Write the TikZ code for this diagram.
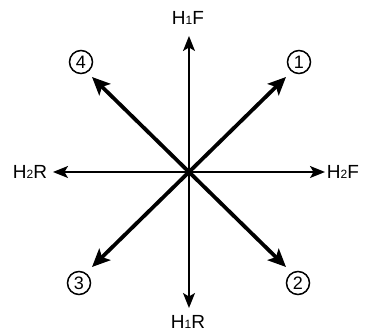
\documentclass[tikz,border=0pt]{standalone}
\usepackage{fontspec}
\setmainfont{Liberation Sans}
\usetikzlibrary{arrows.meta}
\newcommand{\smallsub}[1]{\raisebox{-0.5pt}{\fontsize{12}{12}\selectfont #1}}
\begin{document}
\begin{tikzpicture}[x=1pt,y=1pt,
  thinarrow/.style={line width=1.5pt,-{Stealth[length=15pt,width=12pt,inset=3.5pt]}},
  thickarrow/.style={line width=3.8pt,-{Stealth[length=18pt,width=16pt,inset=4pt]}},
  lbl/.style={font=\fontsize{19}{19}\selectfont,inner sep=0pt},
  num/.style={circle,draw,line width=1.5pt,minimum size=23pt,inner sep=0pt,font=\fontsize{18}{18}\selectfont}]
\useasboundingbox (-189,-160) rectangle (179,172);
\coordinate (o) at (0,0);
\coordinate (n) at (0,136);
\coordinate (s) at (0,-136);
\coordinate (e) at (136,0);
\coordinate (w) at (-136,0);
\coordinate (ne) at (97,95);
\coordinate (se) at (97,-95);
\coordinate (sw) at (-97,-95);
\coordinate (nw) at (-97,95);
\draw[thinarrow] (o) -- (n);
\draw[thinarrow] (o) -- (s);
\draw[thinarrow] (o) -- (e);
\draw[thinarrow] (o) -- (w);
\draw[thickarrow] (o) -- (ne);
\draw[thickarrow] (o) -- (se);
\draw[thickarrow] (o) -- (sw);
\draw[thickarrow] (o) -- (nw);
\node[lbl] (h1f) at (-1,154) {H\smallsub{1}F};
\node[lbl] (h1r) at (-1,-150) {H\smallsub{1}R};
\node[lbl] (h2r) at (-159,0) {H\smallsub{2}R};
\node[lbl] (h2f) at (154,0) {H\smallsub{2}F};
\node[num] (c1) at (110,110) {1};
\node[num] (c2) at (109,-111) {2};
\node[num] (c3) at (-110,-111) {3};
\node[num] (c4) at (-108,110) {4};
\end{tikzpicture}
\end{document}
